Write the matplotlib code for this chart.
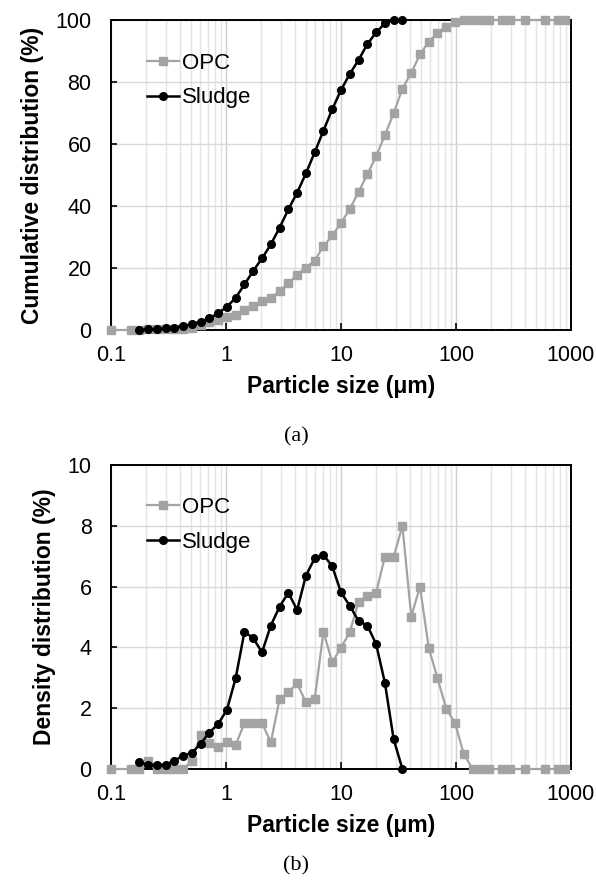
import matplotlib
matplotlib.use("Agg")
import matplotlib.pyplot as plt
from matplotlib.ticker import FixedLocator, LogLocator, NullFormatter, FixedFormatter

plt.rcParams['font.family'] = ['Liberation Sans', 'DejaVu Sans']

# ---------------- data ----------------
x_sludge = [0.176, 0.210, 0.250, 0.298, 0.355, 0.423, 0.505, 0.601, 0.717, 0.855,
            1.019, 1.214, 1.448, 1.726, 2.057, 2.453, 2.924, 3.485, 4.154, 4.953,
            5.904, 7.038, 8.389, 10.0, 11.92, 14.21, 16.94, 20.2, 24.07, 28.7, 34.2]

x_opc = [0.1, 0.15,
         0.176, 0.210, 0.250, 0.298, 0.355, 0.423, 0.505, 0.601, 0.717, 0.855,
         1.019, 1.214, 1.448, 1.726, 2.057, 2.453, 2.924, 3.485, 4.154, 4.953,
         5.904, 7.038, 8.389, 10.0, 11.92, 14.21, 16.94, 20.2, 24.07, 28.7, 34.2,
         40.8, 48.6, 57.9, 69.0, 82.3, 98.1, 116.9, 139.4,
         168, 195, 250, 295, 400, 595, 775, 890]

opc_cum = [0, 0,
           0, 0.2, 0.2, 0.2, 0.2, 0.2, 0.5, 1.6, 2.5, 3.3,
           4.1, 4.9, 6.4, 7.9, 9.4, 10.3, 12.6, 15.1, 17.9, 20.1,
           22.4, 27.0, 30.5, 34.5, 39.0, 44.5, 50.2, 56.0, 62.9, 69.9, 77.9,
           82.9, 88.9, 92.9, 95.9, 97.9, 99.4, 99.9, 100,
           100, 100, 100, 100, 100, 100, 100, 100]

sludge_cum = [0, 0.2, 0.3, 0.5, 0.8, 1.3, 1.9, 2.7, 3.8, 5.4,
              7.5, 10.4, 14.7, 19.1, 23.1, 27.6, 33.0, 38.9, 44.3, 50.5,
              57.3, 64.3, 71.2, 77.4, 82.6, 87.1, 92.2, 96.0, 98.9, 100, 100]

opc_den = [0, 0,
           0, 0.25, 0, 0, 0, 0, 0.27, 1.12, 0.85, 0.74,
           0.88, 0.80, 1.51, 1.51, 1.51, 0.88, 2.30, 2.52, 2.82, 2.19,
           2.30, 4.52, 3.51, 3.99, 4.50, 5.50, 5.69, 5.80, 6.98, 6.98, 8.0,
           5.01, 6.0, 3.99, 2.99, 1.98, 1.51, 0.49, 0,
           0, 0, 0, 0, 0, 0, 0, 0]

sludge_den = [0.22, 0.14, 0.14, 0.14, 0.27, 0.44, 0.53, 0.83, 1.20, 1.48,
              1.95, 2.99, 4.52, 4.30, 3.84, 4.72, 5.34, 5.80, 5.23, 6.36,
              6.93, 7.04, 6.67, 5.81, 5.37, 4.87, 4.72, 4.11, 2.84, 0.98, 0]

x_ticks = [0.1, 1, 10, 100, 1000]
x_ticklabels = ['0.1', '1', '10', '100', '1000']
cum_ticks = [0, 20, 40, 60, 80, 100]
den_ticks = [0, 2, 4, 6, 8, 10]

series_names = ['OPC', 'Sludge']
xlabel = 'Particle size (μm)'
ylabels = ['Cumulative distribution (%)', 'Density distribution (%)']
captions = ['(a)', '(b)']

# ---------------- styling ----------------
W, H = 596, 881
fig = plt.figure(figsize=(W / 100, H / 100), dpi=100)

grey = '#a3a3a3'
tick_fs = 15.5
label_fs = 16.5
legend_fs = 16


def px_axes(left, top, right, bottom):
    return [left / W, 1 - bottom / H, (right - left) / W, (bottom - top) / H]


def style_axes(ax, yticks, ylim, ylabel):
    ax.set_xscale('log')
    ax.set_xlim(0.1, 1000)
    ax.set_ylim(*ylim)
    ax.xaxis.set_major_locator(FixedLocator(x_ticks))
    ax.xaxis.set_major_formatter(FixedFormatter(x_ticklabels))
    ax.xaxis.set_minor_locator(LogLocator(base=10, subs=range(2, 10), numticks=20))
    ax.xaxis.set_minor_formatter(NullFormatter())
    ax.set_yticks(yticks)
    ax.grid(True, which='major', axis='y', color='#d9d9d9', lw=1.0, zorder=0)
    ax.grid(True, which='major', axis='x', color='#d0d0d0', lw=1.0, zorder=0)
    ax.grid(True, which='minor', axis='x', color='#e4e4e4', lw=1.0, zorder=0)
    ax.set_axisbelow(True)
    ax.tick_params(axis='x', which='major', direction='in', length=5, width=1.2,
                   labelsize=tick_fs, pad=10.5, color='black')
    ax.tick_params(axis='x', which='minor', length=0)
    ax.tick_params(axis='y', which='major', direction='in', length=4, width=1.2,
                   labelsize=tick_fs, pad=14)
    for s in ax.spines.values():
        s.set_linewidth(1.4)
        s.set_color('black')
    ax.set_xlabel(xlabel, fontsize=label_fs, fontweight='bold', labelpad=7)
    ax.set_ylabel(ylabel, fontsize=label_fs, fontweight='bold', labelpad=8)


def add_legend(ax):
    ax.legend(loc='upper left', bbox_to_anchor=(0.078, 0.895), frameon=False,
              fontsize=legend_fs, handlelength=1.45, handletextpad=0.15,
              labelspacing=0.62, borderpad=0, borderaxespad=0)


# Top panel: cumulative
ax1 = fig.add_axes(px_axes(111, 20, 571, 330))
ax1.plot(x_opc, opc_cum, color=grey, lw=1.6, marker='s', ms=5.2, mec=grey, mfc=grey,
         label=series_names[0], zorder=3, clip_on=False)
ax1.plot(x_sludge, sludge_cum, color='black', lw=1.8, marker='o', ms=5.5,
         label=series_names[1], zorder=4, clip_on=False)
style_axes(ax1, cum_ticks, (0, 100), ylabels[0])
add_legend(ax1)

# Bottom panel: density
ax2 = fig.add_axes(px_axes(111, 465, 571, 769))
ax2.plot(x_opc, opc_den, color=grey, lw=1.6, marker='s', ms=5.2, mec=grey, mfc=grey,
         label=series_names[0], zorder=3, clip_on=False)
ax2.plot(x_sludge, sludge_den, color='black', lw=1.8, marker='o', ms=5.5,
         label=series_names[1], zorder=4, clip_on=False)
style_axes(ax2, den_ticks, (0, 10), ylabels[1])
add_legend(ax2)

fig.text(296 / W, 1 - 437 / H, captions[0], ha='center', va='center', fontsize=16,
         family=['Liberation Serif', 'DejaVu Serif'])
fig.text(296 / W, 1 - 866 / H, captions[1], ha='center', va='center', fontsize=16,
         family=['Liberation Serif', 'DejaVu Serif'])

fig.savefig('out.png', dpi=100)
